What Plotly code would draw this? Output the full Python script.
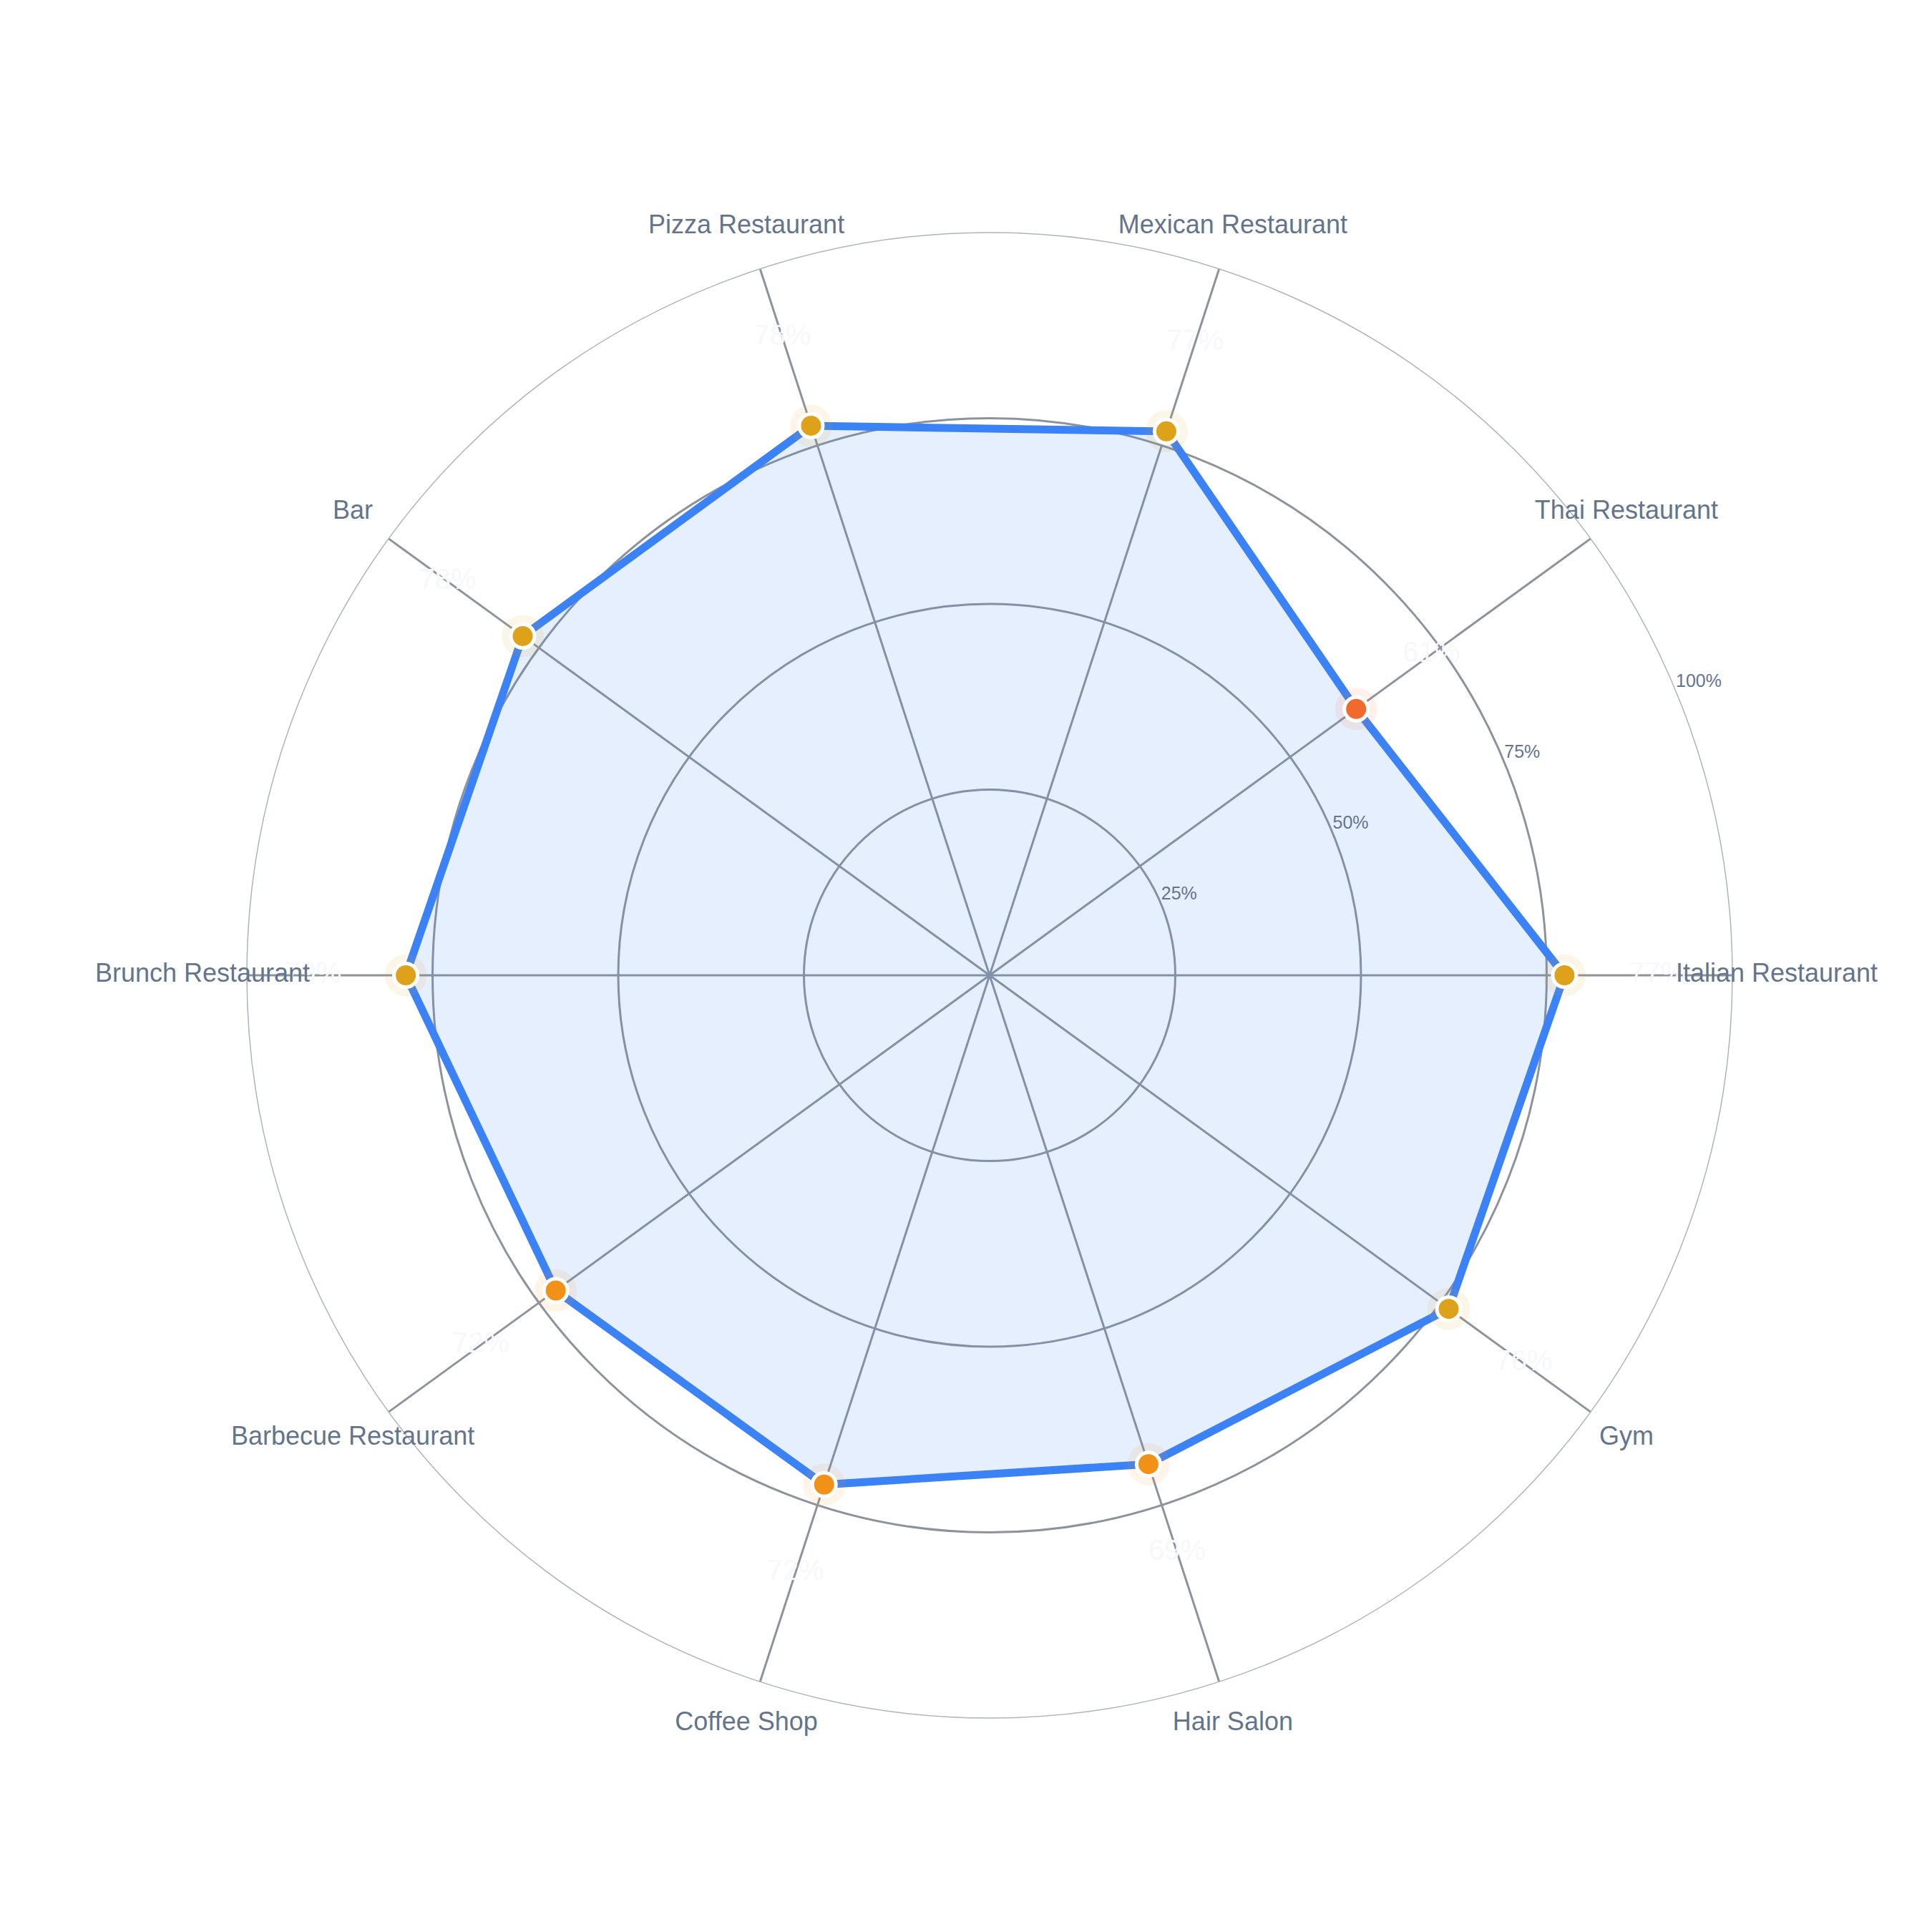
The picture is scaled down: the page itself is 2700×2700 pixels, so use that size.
import plotly.graph_objects as go

# datos
categorias = ['Italian Restaurant', 'Thai Restaurant', 'Mexican Restaurant', 'Pizza Restaurant', 'Bar',
              'Brunch Restaurant', 'Barbecue Restaurant', 'Coffee Shop', 'Hair Salon', 'Gym']
valores = [77.4, 61.0, 77.0, 77.8, 77.7, 78.6, 72.2, 72.1, 69.2, 76.4]
ticks_radiales = [25, 50, 75, 100]
ticks_texto = ['25%', '50%', '75%', '100%']

# colores
AZUL = '#3b82f6'
TEXTO = '#64748b'
GRID = '#8d939d'
FUENTE = 'Liberation Sans, Arial'
ANGULO_EJE = 22.5  # angulo del eje radial (grados)


def color_punto(v):
    if v >= 75:
        return '#dda21a'
    if v >= 65:
        return '#f29118'
    return '#f16a2d'


colores = [color_punto(v) for v in valores]
etiquetas = [f"{round(v)}%" for v in valores]

fig = go.Figure()

# area con linea
fig.add_trace(go.Scatterpolar(
    r=valores + valores[:1],
    theta=categorias + categorias[:1],
    mode='lines',
    fill='toself',
    fillcolor='rgba(59,130,246,0.13)',
    line=dict(color=AZUL, width=11),
    hoverinfo='skip'
))

# halo de los puntos
fig.add_trace(go.Scatterpolar(
    r=valores, theta=categorias, mode='markers',
    marker=dict(size=59, color=colores, opacity=0.1),
    hoverinfo='skip'
))

# puntos
fig.add_trace(go.Scatterpolar(
    r=valores, theta=categorias, mode='markers',
    marker=dict(size=33, color=colores, line=dict(color='white', width=5))
))

# etiquetas de valor (casi invisibles)
fig.add_trace(go.Scatterpolar(
    r=[v + 12.5 for v in valores], theta=categorias, mode='text',
    text=etiquetas, textposition='middle center',
    textfont=dict(size=40, color='#f6f8fb', family=FUENTE),
    hoverinfo='skip'
))

# nombres de categoria: van en un segundo polar un poco mas grande (mismo centro)
fig.add_trace(go.Scatterpolar(
    r=[100] * len(categorias), theta=categorias, mode='text',
    text=categorias, textposition='middle center',
    textfont=dict(size=36, color=TEXTO, family=FUENTE),
    cliponaxis=False, hoverinfo='skip', subplot='polar2'
))

# etiquetas del eje radial, empiezan justo en cada tick
fig.add_trace(go.Scatterpolar(
    r=ticks_radiales, theta=[ANGULO_EJE] * len(ticks_radiales), mode='text',
    text=ticks_texto, textposition='top right',
    textfont=dict(size=25, color=TEXTO, family=FUENTE),
    cliponaxis=False, hoverinfo='skip', subplot='polar3'
))

dominio_principal = dict(x=[0.079075, 0.920925], y=[0.028182, 0.971818])

fig.update_layout(
    width=2700, height=2700,
    showlegend=False,
    paper_bgcolor='white',
    plot_bgcolor='white',
    margin=dict(l=142, r=92, t=255, b=245),
    font=dict(family=FUENTE, color=TEXTO),
    polar=dict(
        domain=dominio_principal,
        bgcolor='white',
        radialaxis=dict(
            range=[0, 100],
            tickvals=ticks_radiales,
            angle=ANGULO_EJE,
            showticklabels=False,
            showline=False,
            ticks='',
            gridcolor=GRID,
            gridwidth=2.7,
            layer='below traces'
        ),
        angularaxis=dict(
            type='category',
            rotation=0,
            direction='counterclockwise',
            showticklabels=False,
            ticks='',
            gridcolor=GRID,
            gridwidth=2.7,
            showline=True,
            linecolor='#adb4be',
            linewidth=1.5,
            layer='below traces'
        )
    ),
    polar2=dict(
        domain=dict(x=[0, 1], y=[0, 1]),
        bgcolor='rgba(0,0,0,0)',
        radialaxis=dict(range=[0, 100], visible=False),
        angularaxis=dict(type='category', rotation=0, direction='counterclockwise', visible=False)
    ),
    polar3=dict(
        domain=dominio_principal,
        bgcolor='rgba(0,0,0,0)',
        radialaxis=dict(range=[0, 100], visible=False),
        angularaxis=dict(type='linear', rotation=0, direction='counterclockwise', visible=False)
    )
)

fig.write_html("out.html")
